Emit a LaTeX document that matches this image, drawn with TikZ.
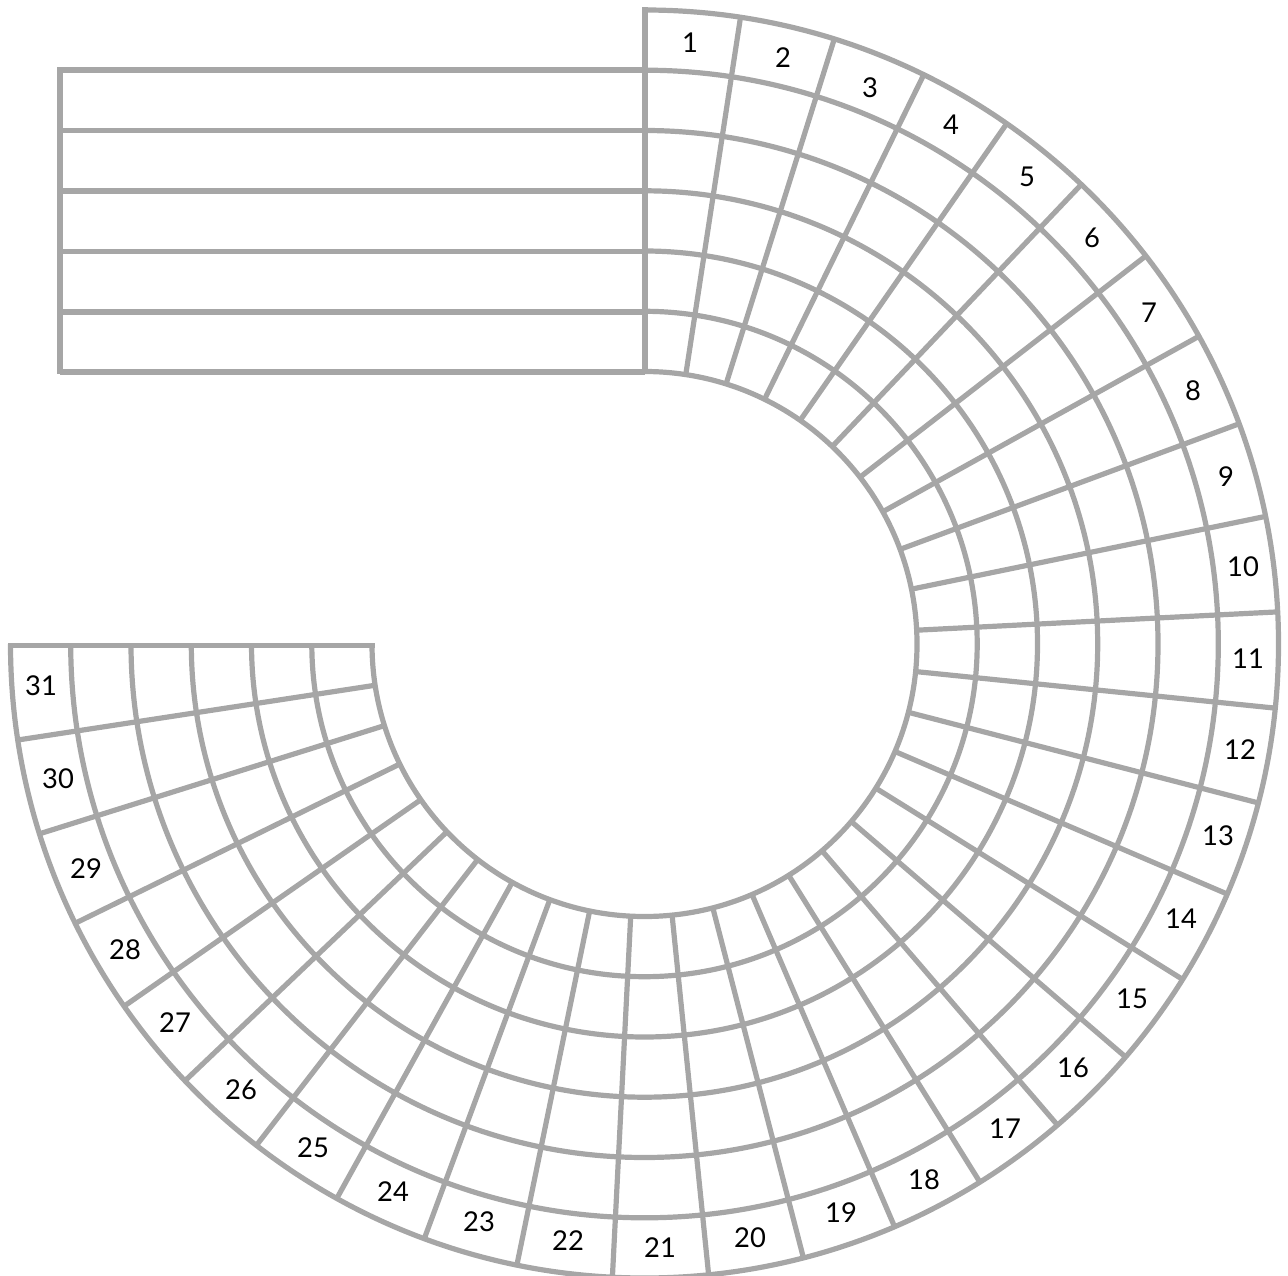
\documentclass[tikz,border=0pt]{standalone}
\usepackage{fontspec}
\setmainfont{Lato}
\definecolor{ringGray}{RGB}{166, 166, 166}
\tikzset{
    ringline/.style={ringGray, line width=3.9pt},
    seatlabel/.style={text=black, font=\fontsize{20.5}{22}\selectfont, inner sep=0pt}
}

\begin{document}
\begin{tikzpicture}[x=0.75pt, y=-0.75pt]
    \useasboundingbox (0,0) rectangle (1288,1276);
    % straight section
    \foreach \ypos in {70,130.5,191,251.5,312,372} {
        \draw[ringline] (60,\ypos) -- (645,\ypos);
    }
    \draw[ringline] (60,67.5) -- (60,374.5);
    \draw[ringline] (645,7.5) -- (645,372);
    % rings
    \foreach \rad in {272.5,332.7,393,453.2,513.5,573.8,634} {
        \draw[ringline] (644.5,644-\rad) arc[start angle=-90, delta angle=270, x radius=\rad, y radius=\rad];
    }
    \draw[ringline] (8,645.5) -- (375,645.5);
    % spokes
    \foreach \num in {1,...,30} {
        \pgfmathsetmacro{\ang}{\num*270/31}
        \draw[ringline] ({644.5+272.5*sin(\ang)},{644-272.5*cos(\ang)}) -- ({644.5+634*sin(\ang)},{644-634*cos(\ang)});
    }
    % numbers
    \foreach \num/\xpos/\ypos in {1/690/43, 2/783/58, 3/870/88, 4/951/125, 5/1027/177, 6/1092/238,
        7/1149/313, 8/1193/391, 9/1226/477, 10/1243/567, 11/1248/659, 12/1240/750,
        13/1218/836, 14/1181/919, 15/1132/999, 16/1073/1068, 17/1005/1129, 18/924/1180,
        19/841/1213, 20/750/1238, 21/660/1248, 22/568/1241, 23/479/1222, 24/393/1192,
        25/313/1148, 26/241/1090, 27/175/1023, 28/125/950, 29/86/869, 30/58/779, 31/41/686} {
        \node[seatlabel] (seat\num) at (\xpos,\ypos) {\num};
    }
\end{tikzpicture}
\end{document}
